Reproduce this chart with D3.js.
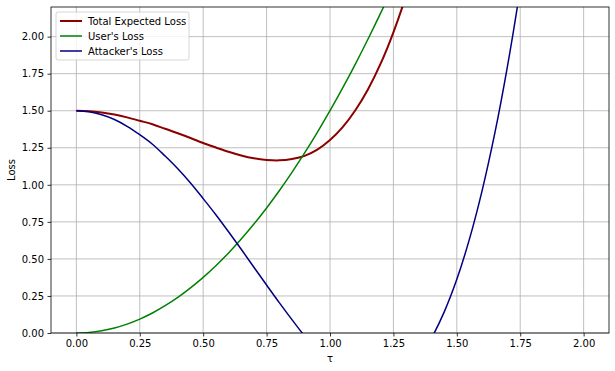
<!DOCTYPE html>
<html>
<head>
<meta charset="utf-8">
<script src="https://cdn.jsdelivr.net/npm/d3@7"></script>
<style>
  body { margin: 0; background: #fff; }
  text { font-family: "DejaVu Sans", sans-serif; }
</style>
</head>
<body>
<div id="chart"></div>
<script>
// values, tau step 0.05
const tau = [0.00,0.05,0.10,0.15,0.20,0.25,0.30,0.35,0.40,0.45,0.50,0.55,0.60,0.65,0.70,0.75,0.80,0.85,0.90,0.95,
  1.00,1.05,1.10,1.15,1.20,1.25,1.30,1.35,1.40,1.45,1.50,1.55,1.60,1.65,1.70,1.75,1.80,1.85,1.90,1.95,2.00];
const totalLoss = [1.500,1.497,1.488,1.474,1.455,1.432,1.409,1.378,1.348,1.316,1.282,1.252,1.223,1.198,1.179,1.168,1.165,1.174,1.195,1.237,
  1.302,1.389,1.503,1.645,1.819,2.029,2.277,2.569,2.907,3.295,3.737,4.238,4.803,5.434,6.138,6.919,7.78,8.73,9.77,10.91,12.16];
const userLoss = [0,0.004,0.015,0.034,0.060,0.094,0.135,0.184,0.240,0.304,0.375,0.454,0.540,0.634,0.735,0.844,0.960,1.084,1.215,1.354,
  1.500,1.654,1.815,1.984,2.160,2.344,2.535,2.734,2.940,3.154,3.375,3.604,3.840,4.084,4.335,4.594,4.860,5.134,5.415,5.704,6.000];
const attackerLoss = [1.500,1.493,1.473,1.441,1.395,1.338,1.274,1.194,1.108,1.012,0.907,0.798,0.683,0.565,0.444,0.324,0.205,0.090,-0.020,-0.117,
  -0.198,-0.265,-0.313,-0.339,-0.341,-0.315,-0.258,-0.165,-0.034,0.141,0.362,0.635,0.963,1.350,1.803,2.325,2.922,3.598,4.358,5.209,6.155];

const series = [
  {name: "Total Expected Loss", values: totalLoss, color: "#8b0000", width: 2},
  {name: "User's Loss", values: userLoss, color: "#008000", width: 1.5},
  {name: "Attacker's Loss", values: attackerLoss, color: "#000080", width: 1.5}
];
const xTicks = [0, 0.25, 0.5, 0.75, 1.0, 1.25, 1.5, 1.75, 2.0];
const yTicks = [0, 0.25, 0.5, 0.75, 1.0, 1.25, 1.5, 1.75, 2.0];

const width = 615, height = 371;
const margin = {top: 7, right: 6, bottom: 38, left: 51};

const svg = d3.select("#chart").append("svg")
  .attr("width", width)
  .attr("height", height);

const x = d3.scaleLinear().domain([-0.1, 2.1]).range([margin.left, width - margin.right]);
const y = d3.scaleLinear().domain([0, 2.2]).range([height - margin.bottom, margin.top]);

svg.append("clipPath").attr("id", "clip")
  .append("rect")
  .attr("x", margin.left).attr("y", margin.top)
  .attr("width", width - margin.left - margin.right)
  .attr("height", height - margin.top - margin.bottom);

// grid
svg.append("g")
  .selectAll("line")
  .data(xTicks)
  .join("line")
    .attr("x1", d => x(d)).attr("x2", d => x(d))
    .attr("y1", margin.top).attr("y2", height - margin.bottom)
    .attr("stroke", "#b0b0b0").attr("stroke-width", 0.8);
svg.append("g")
  .selectAll("line")
  .data(yTicks)
  .join("line")
    .attr("y1", d => y(d)).attr("y2", d => y(d))
    .attr("x1", margin.left).attr("x2", width - margin.right)
    .attr("stroke", "#b0b0b0").attr("stroke-width", 0.8);

// lines
const line = d3.line()
  .x((d, i) => x(tau[i]))
  .y(d => y(d))
  .curve(d3.curveCatmullRom);

svg.append("g")
  .attr("clip-path", "url(#clip)")
  .selectAll("path")
  .data(series)
  .join("path")
    .attr("d", d => line(d.values))
    .attr("fill", "none")
    .attr("stroke", d => d.color)
    .attr("stroke-width", d => d.width);

// axes
const xAxis = svg.append("g")
  .attr("transform", `translate(0,${height - margin.bottom})`)
  .call(d3.axisBottom(x).tickValues(xTicks).tickFormat(d3.format(".2f")).tickSizeOuter(0).tickSize(3.5).tickPadding(3.5));
const yAxis = svg.append("g")
  .attr("transform", `translate(${margin.left},0)`)
  .call(d3.axisLeft(y).tickValues(yTicks).tickFormat(d3.format(".2f")).tickSizeOuter(0).tickSize(3.5).tickPadding(3.5));
[xAxis, yAxis].forEach(a => {
  a.select(".domain").remove();
  a.selectAll("text").attr("font-size", 10).attr("fill", "#000").style("font-family", "DejaVu Sans");
  a.selectAll("line").attr("stroke", "#000").attr("stroke-width", 0.8);
});

// frame
svg.append("rect")
  .attr("x", margin.left).attr("y", margin.top)
  .attr("width", width - margin.left - margin.right)
  .attr("height", height - margin.top - margin.bottom)
  .attr("fill", "none").attr("stroke", "#000").attr("stroke-width", 0.8);

svg.append("text")
  .attr("x", x(1.0)).attr("y", height - 9)
  .attr("text-anchor", "middle").attr("font-size", 10)
  .text("τ");
svg.append("text")
  .attr("transform", `translate(15,${y(1.1)}) rotate(-90)`)
  .attr("text-anchor", "middle").attr("font-size", 10)
  .text("Loss");

// legend
const legend = svg.append("g").attr("transform", `translate(${margin.left + 5},${margin.top + 5})`);
legend.append("rect")
  .attr("width", 133).attr("height", 48).attr("rx", 2)
  .attr("fill", "#fff").attr("fill-opacity", 0.8)
  .attr("stroke", "#cccccc").attr("stroke-width", 0.8);
const items = legend.selectAll("g.item")
  .data(series)
  .join("g")
    .attr("class", "item")
    .attr("transform", (d, i) => `translate(0,${9 + i * 15})`);
items.append("line")
  .attr("x1", 4).attr("x2", 26)
  .attr("stroke", d => d.color).attr("stroke-width", d => d.width);
items.append("text")
  .attr("x", 32).attr("dy", "0.35em")
  .attr("font-size", 10)
  .text(d => d.name);
</script>
</body>
</html>
